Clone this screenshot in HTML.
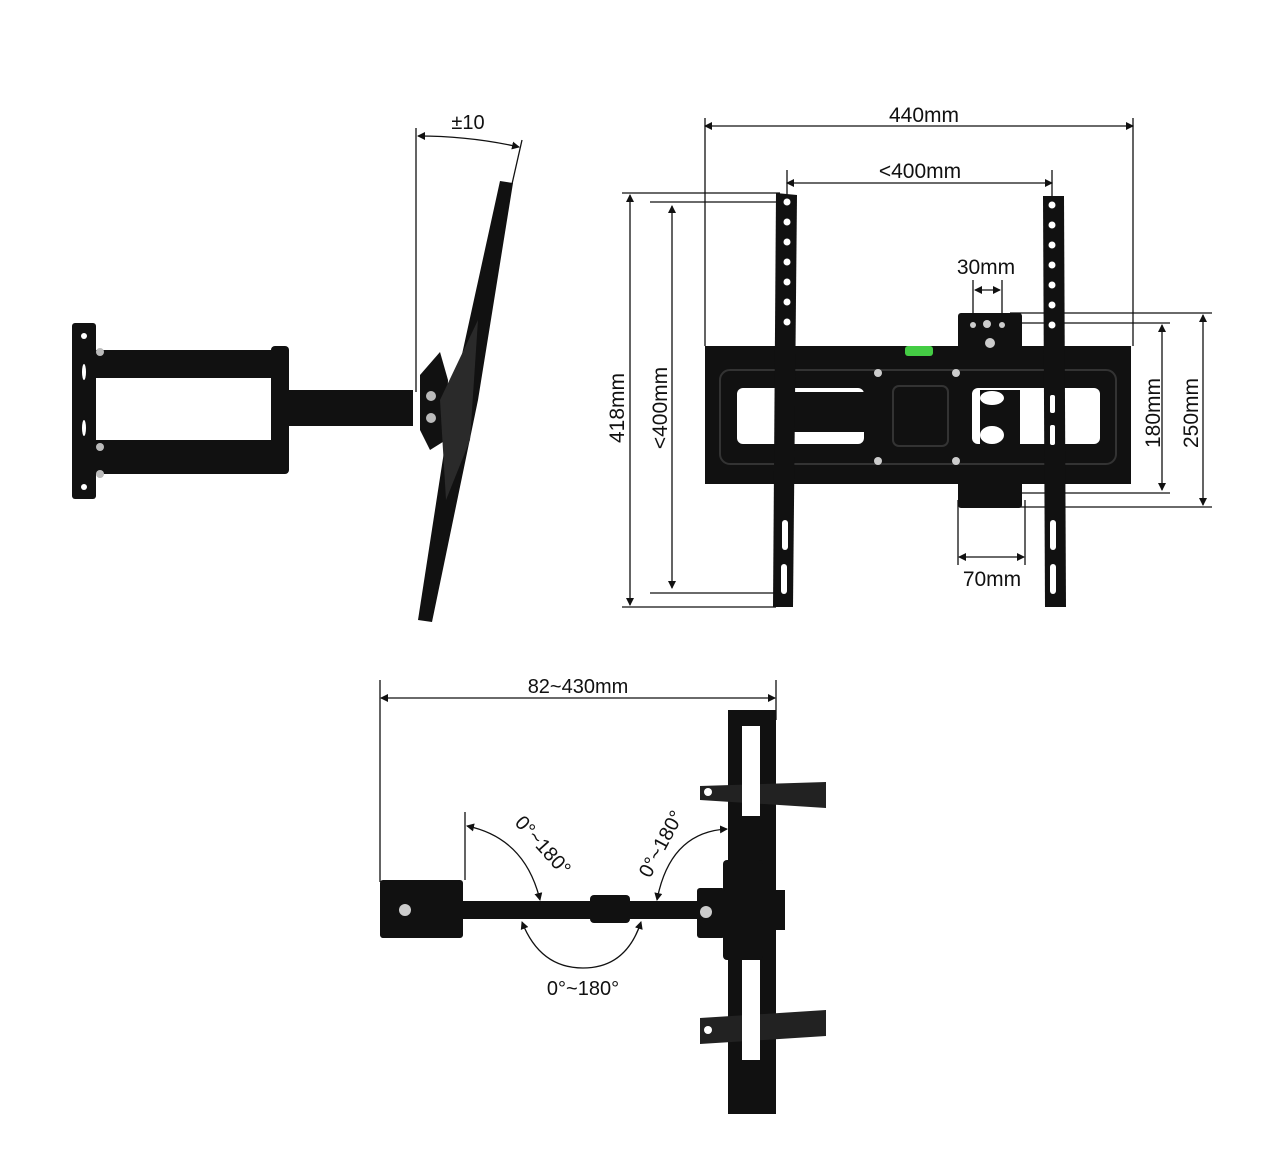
<!DOCTYPE html>
<html><head><meta charset="utf-8"><style>
html,body{margin:0;padding:0;background:#fff;}
svg{display:block;}
text{font-family:"Liberation Sans",sans-serif;fill:#111;}
</style></head><body>
<svg width="1284" height="1164" viewBox="0 0 1284 1164" xmlns="http://www.w3.org/2000/svg">
<defs>
<marker id="a" markerWidth="8" markerHeight="8" refX="7" refY="4" orient="auto-start-reverse" markerUnits="userSpaceOnUse"><path d="M0,0 L8,4 L0,8 z" fill="#111"/></marker>
</defs>
<g stroke="#111" stroke-width="1.3" fill="none">
<!-- side view dims -->
<line x1="416" y1="128" x2="416" y2="392"/>
<path d="M418,136 Q470,136 519,147" marker-start="url(#a)" marker-end="url(#a)"/>
<line x1="522" y1="140" x2="512" y2="184"/>
<!-- front view dims -->
<line x1="705" y1="126" x2="1133" y2="126" marker-start="url(#a)" marker-end="url(#a)"/>
<line x1="705" y1="118" x2="705" y2="346"/>
<line x1="1133" y1="118" x2="1133" y2="346"/>
<line x1="787" y1="183" x2="1052" y2="183" marker-start="url(#a)" marker-end="url(#a)"/>
<line x1="787" y1="170" x2="787" y2="196"/>
<line x1="1052" y1="170" x2="1052" y2="196"/>
<line x1="630" y1="195" x2="630" y2="605" marker-start="url(#a)" marker-end="url(#a)"/>
<line x1="622" y1="193" x2="780" y2="193"/>
<line x1="622" y1="607" x2="776" y2="607"/>
<line x1="672" y1="206" x2="672" y2="588" marker-start="url(#a)" marker-end="url(#a)"/>
<line x1="650" y1="202" x2="785" y2="202"/>
<line x1="650" y1="593" x2="777" y2="593"/>
<line x1="975" y1="290" x2="1000" y2="290" marker-start="url(#a)" marker-end="url(#a)"/>
<line x1="973" y1="280" x2="973" y2="318"/>
<line x1="1002" y1="280" x2="1002" y2="318"/>
<line x1="1162" y1="325" x2="1162" y2="490" marker-start="url(#a)" marker-end="url(#a)"/>
<line x1="1000" y1="323" x2="1170" y2="323"/>
<line x1="1000" y1="493" x2="1170" y2="493"/>
<line x1="1203" y1="315" x2="1203" y2="505" marker-start="url(#a)" marker-end="url(#a)"/>
<line x1="1010" y1="313" x2="1212" y2="313"/>
<line x1="1010" y1="507" x2="1212" y2="507"/>
<line x1="959" y1="557" x2="1024" y2="557" marker-start="url(#a)" marker-end="url(#a)"/>
<line x1="958" y1="500" x2="958" y2="565"/>
<line x1="1025" y1="500" x2="1025" y2="565"/>
<!-- bottom view dims -->
<line x1="381" y1="698" x2="775" y2="698" marker-start="url(#a)" marker-end="url(#a)"/>
<line x1="380" y1="680" x2="380" y2="882"/>
<line x1="776" y1="680" x2="776" y2="720"/>
<line x1="465" y1="812" x2="465" y2="880"/>
<path d="M467,826 Q525,838 540,900" marker-start="url(#a)" marker-end="url(#a)"/>
<path d="M727,829 Q670,832 657,900" marker-start="url(#a)" marker-end="url(#a)"/>
<path d="M522,922 Q540,968 583,968 Q626,968 641,922" marker-start="url(#a)" marker-end="url(#a)"/>
</g>
<!-- side view drawing -->
<g fill="#111">
<rect x="72" y="323" width="24" height="176" rx="3"/>
<rect x="86" y="350" width="192" height="28"/>
<rect x="86" y="440" width="192" height="34"/>
<rect x="271" y="346" width="18" height="128" rx="4"/>
<rect x="289" y="390" width="124" height="36"/>
<polygon points="420,375 440,352 448,380 446,440 430,450 420,430"/>
<polygon points="500,181 513,183 478,400 432,622 418,620 452,400"/>
<polygon points="440,400 478,320 470,440 446,500" fill="#2a2a2a"/>
</g>
<g fill="#bbb">
<circle cx="431" cy="396" r="5"/><circle cx="431" cy="418" r="5"/>
<circle cx="100" cy="352" r="4"/><circle cx="100" cy="447" r="4"/><circle cx="100" cy="474" r="4"/>
<circle cx="84" cy="336" r="3" fill="#fff"/><circle cx="84" cy="487" r="3" fill="#fff"/>
<ellipse cx="84" cy="372" rx="2" ry="8" fill="#fff"/><ellipse cx="84" cy="428" rx="2" ry="8" fill="#fff"/>
</g>
<!-- front view drawing -->
<g fill="#111">
<rect x="958" y="313" width="64" height="45" rx="3"/>
<rect x="958" y="480" width="64" height="28" rx="3"/>
<rect x="705" y="346" width="426" height="138"/>
</g>
<g fill="#fff">
<rect x="737" y="388" width="127" height="56" rx="6"/>
<rect x="972" y="388" width="128" height="56" rx="6"/>
</g>
<rect x="790" y="392" width="74" height="40" fill="#111"/>
<rect x="980" y="390" width="40" height="54" fill="#111"/>
<ellipse cx="992" cy="398" rx="12" ry="7" fill="#fff"/>
<ellipse cx="992" cy="435" rx="12" ry="9" fill="#fff"/>
<g fill="none" stroke="#333" stroke-width="2">
<rect x="720" y="370" width="396" height="94" rx="10"/>
<rect x="893" y="386" width="55" height="60" rx="6"/>
</g>
<rect x="905" y="346" width="28" height="10" rx="3" fill="#4c4"/>
<g fill="#ccc"><circle cx="878" cy="373" r="4"/><circle cx="956" cy="373" r="4"/><circle cx="878" cy="461" r="4"/><circle cx="956" cy="461" r="4"/><circle cx="990" cy="343" r="5"/><circle cx="973" cy="325" r="3"/><circle cx="1002" cy="325" r="3"/><circle cx="987" cy="324" r="4"/></g>
<polygon points="776,193 797,195 793,607 773,607" fill="#111"/>
<polygon points="1043,196 1064,196 1066,607 1045,607" fill="#111"/>
<g fill="#fff">
<circle cx="787" cy="202" r="3.5"/><circle cx="787" cy="222" r="3.5"/><circle cx="787" cy="242" r="3.5"/><circle cx="787" cy="262" r="3.5"/><circle cx="787" cy="282" r="3.5"/><circle cx="787" cy="302" r="3.5"/><circle cx="787" cy="322" r="3.5"/>
<circle cx="1052" cy="205" r="3.5"/><circle cx="1052" cy="225" r="3.5"/><circle cx="1052" cy="245" r="3.5"/><circle cx="1052" cy="265" r="3.5"/><circle cx="1052" cy="285" r="3.5"/><circle cx="1052" cy="305" r="3.5"/><circle cx="1052" cy="325" r="3.5"/>
<rect x="782" y="520" width="6" height="30" rx="3"/><rect x="781" y="564" width="6" height="30" rx="3"/>
<rect x="1050" y="520" width="6" height="30" rx="3"/><rect x="1050" y="564" width="6" height="30" rx="3"/>
<rect x="1050" y="395" width="5" height="18" rx="2"/><rect x="1050" y="425" width="5" height="20" rx="2"/>
</g>
<!-- bottom view drawing -->
<g fill="#111">
<rect x="380" y="880" width="83" height="58" rx="3"/>
<rect x="400" y="901" width="300" height="18"/>
<rect x="590" y="895" width="40" height="28" rx="4"/>
<rect x="728" y="710" width="48" height="404"/>
<polygon points="700,786 826,782 826,808 700,800" fill="#222"/>
<polygon points="700,1018 826,1010 826,1036 700,1044" fill="#222"/>
<rect x="723" y="860" width="40" height="100" rx="4"/>
<rect x="763" y="890" width="22" height="40"/>
<rect x="697" y="888" width="28" height="50" rx="3"/>
</g>
<g fill="#fff">
<rect x="742" y="726" width="18" height="90"/>
<rect x="742" y="960" width="18" height="100"/>
<circle cx="405" cy="910" r="6" fill="#ccc"/><circle cx="706" cy="912" r="6" fill="#ccc"/>
<circle cx="708" cy="792" r="4"/><circle cx="708" cy="1030" r="4"/>
</g>
<!-- labels -->
<text x="468" y="129" font-size="20" text-anchor="middle">±10</text>
<text x="924" y="122" font-size="21" text-anchor="middle">440mm</text>
<text x="920" y="178" font-size="21" text-anchor="middle">&lt;400mm</text>
<text x="986" y="274" font-size="21" text-anchor="middle">30mm</text>
<text x="992" y="586" font-size="21" text-anchor="middle">70mm</text>
<text font-size="21" text-anchor="middle" transform="translate(624,408) rotate(-90)">418mm</text>
<text font-size="21" text-anchor="middle" transform="translate(667,408) rotate(-90)">&lt;400mm</text>
<text font-size="21" text-anchor="middle" transform="translate(1160,413) rotate(-90)">180mm</text>
<text font-size="21" text-anchor="middle" transform="translate(1198,413) rotate(-90)">250mm</text>
<text x="578" y="693" font-size="20" text-anchor="middle">82~430mm</text>
<text font-size="20" text-anchor="middle" transform="translate(538,850) rotate(48)">0°~180°</text>
<text font-size="20" text-anchor="middle" transform="translate(667,847) rotate(-62)">0°~180°</text>
<text x="583" y="995" font-size="20" text-anchor="middle">0°~180°</text>
</svg>
</body></html>
